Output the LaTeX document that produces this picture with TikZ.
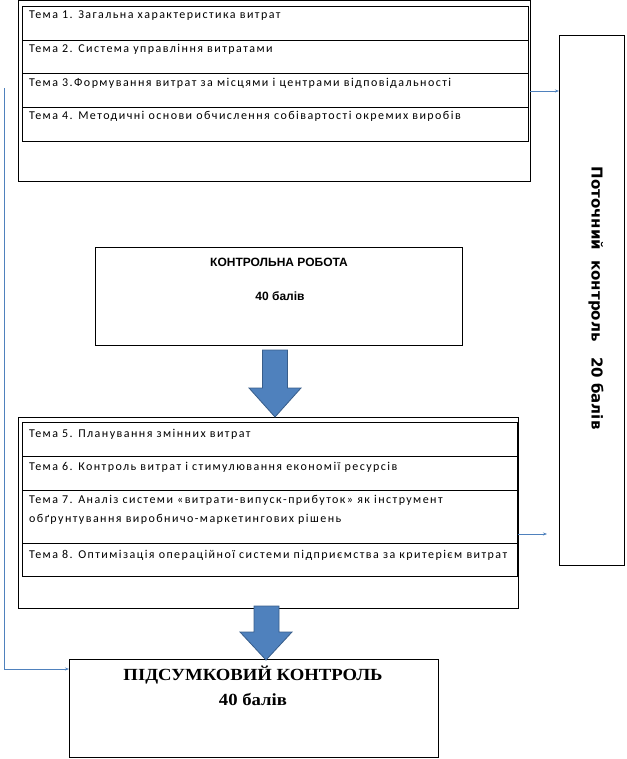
\documentclass[tikz,border=0pt]{standalone}
\usepackage{fontspec}
\setmainfont{Carlito}
\newfontfamily\rowfont[LetterSpace=12]{Carlito}
\newfontfamily\boldsans{Liberation Sans}
\newfontfamily\vfont{DejaVu Sans}
\newfontfamily\serifb{Liberation Serif}
\usetikzlibrary{calc,arrows.meta}
\definecolor{conncol}{HTML}{4F81BD}
\definecolor{arrfill}{HTML}{4F81BD}
\definecolor{arrdraw}{HTML}{385D8A}
\begin{document}
\begin{tikzpicture}[x=1bp,y=-1bp,
  box/.style={draw=black,line width=0.8bp,inner sep=0pt,anchor=north west},
  rowline/.style={draw=black,line width=0.8bp},
  rowtext/.style={anchor=west,inner sep=0pt,font=\rowfont\fontsize{12bp}{14bp}\selectfont,text height=1.5ex,text depth=.25ex},
  krtext/.style={inner sep=0pt,font=\boldsans\bfseries\fontsize{12bp}{14bp}\selectfont},
  fintext/.style={inner sep=0pt,font=\serifb\bfseries\fontsize{17bp}{19bp}\selectfont,xscale=1.1},
  conn/.style={draw=conncol,line width=0.6bp,-{Stealth[length=4bp,width=3bp]}},
  blockarrow/.style={fill=arrfill,draw=arrdraw,line width=0.8bp}]
\useasboundingbox (0,0) rectangle (627,759);
% top group
\node[box,minimum width=512bp,minimum height=181bp] (topouter) at (18,0) {};
\node[box,minimum width=506bp,minimum height=135bp] (toptab) at (22,6) {};
\draw[rowline] (22,40) -- (528,40);
\draw[rowline] (22,73) -- (528,73);
\draw[rowline] (22,107) -- (528,107);
\node[rowtext] (t1) at (29,16) {Тема 1. Загальна характеристика витрат};
\node[rowtext] (t2) at (29,50) {Тема 2. Система управління витратами};
\node[rowtext] (t3) at (29,84) {Тема 3.Формування витрат за місцями і центрами відповідальності};
\node[rowtext] (t4) at (29,117) {Тема 4. Методичні основи обчислення собівартості окремих виробів};
% right box
\node[box,minimum width=65bp,minimum height=530bp] (ctrl) at (559,35) {};
\node[rotate=-90,inner sep=0pt,font=\vfont\bfseries\fontsize{15bp}{17bp}\selectfont] (ctrltext) at (596,298) {Поточний\ \ контроль\ \ \ 20 балів};
% control work
\node[box,minimum width=367bp,minimum height=98bp] (kr) at (95,247) {};
\node[krtext] (krt1) at (279,262) {КОНТРОЛЬНА РОБОТА};
\node[krtext] (krt2) at (280,296) {40 балів};
% bottom group
\node[box,minimum width=500bp,minimum height=191bp] (botouter) at (18,417) {};
\node[box,minimum width=495bp,minimum height=154bp] (bottab) at (22,422) {};
\draw[rowline] (22,456) -- (517,456);
\draw[rowline] (22,490) -- (517,490);
\draw[rowline] (22,543) -- (517,543);
\node[rowtext] (t5) at (29,435) {Тема 5. Планування змінних витрат};
\node[rowtext] (t6) at (29,468) {Тема 6. Контроль витрат і стимулювання економії ресурсів};
\node[rowtext] (t7a) at (29,501) {Тема 7. Аналіз системи «витрати-випуск-прибуток» як інструмент};
\node[rowtext] (t7b) at (29,520) {обґрунтування виробничо-маркетингових рішень};
\node[rowtext] (t8) at (29,556) {Тема 8. Оптимізація операційної системи підприємства за критерієм витрат};
% final control
\node[box,minimum width=369bp,minimum height=98bp] (fin) at (69,659) {};
\node[fintext] (fint1) at (253,675) {ПІДСУМКОВИЙ КОНТРОЛЬ};
\node[fintext] (fint2) at (253,699) {40 балів};
% block arrows
\draw[blockarrow] (262.5,350) -- (287.5,350) -- (287.5,388) -- (301,388) -- (275,417) -- (249,388) -- (262.5,388) -- cycle;
\draw[blockarrow] (254,606) -- (279,606) -- (279,632) -- (292,632) -- (266,660) -- (240,632) -- (254,632) -- cycle;
% connectors
\coordinate (a1) at (530,91);
\draw[conn] (a1) -- (a1 -| ctrl.west);
\coordinate (a2) at (518,534);
\coordinate (a2e) at (547,534);
\draw[conn] (a2) -- (a2e);
\coordinate (l0) at (4,88);
\draw[conn] (l0) |- ([yshift=-10bp]fin.north west);
\end{tikzpicture}
\end{document}
